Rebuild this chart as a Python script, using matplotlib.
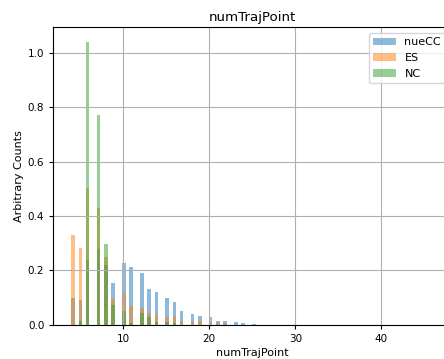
import numpy as np
import matplotlib
matplotlib.use("Agg")
import matplotlib.pyplot as plt

# integer values of numTrajPoint and the normalised heights
points = [4, 5, 6, 7, 8, 9, 10, 11, 12, 13, 14, 15, 16, 17, 18, 19, 20, 21, 22, 23, 24, 25]
nuecc = [0.099, 0.091, 0.239, 0.279, 0.220, 0.153, 0.226, 0.214, 0.190, 0.130, 0.119,
         0.097, 0.082, 0.050, 0.039, 0.032, 0.027, 0.015, 0.012, 0.010, 0.006, 0.002]
es = [0.329, 0.281, 0.503, 0.430, 0.250, 0.093, 0.115, 0.070, 0.062, 0.042, 0.035,
      0.029, 0.032, 0.013, 0.011, 0.013, 0.009, 0.005, 0.005, 0.0, 0.0, 0.0]
nc = [0.0, 0.015, 1.042, 0.771, 0.296, 0.071, 0.050, 0.007, 0.042, 0.028, 0.010,
      0.011, 0.007, 0.0, 0.0, 0.0, 0.0, 0.0, 0.0, 0.0, 0.0, 0.0]
labels = ['nueCC', 'ES', 'NC']

# 100 bins between min and max of the sample
bins = np.linspace(4, 46, 101)

fig = plt.figure(figsize=(4.44, 3.59), dpi=100)
ax = fig.add_axes([0.12, 0.0955, 0.896, 0.828])

for vals, lab in zip([nuecc, es, nc], labels):
    ax.hist(points, bins=bins, weights=vals, alpha=0.5, label=lab)

ax.set_title('numTrajPoint', fontsize=9.6, pad=5)
ax.set_xlabel('numTrajPoint', fontsize=8, labelpad=3)
ax.set_ylabel('Arbitrary Counts', fontsize=8, labelpad=3)
ax.tick_params(labelsize=7.5, length=3)
ax.grid(True)
ax.legend(loc='upper right', fontsize=8)

fig.savefig('out.png', dpi=100)
